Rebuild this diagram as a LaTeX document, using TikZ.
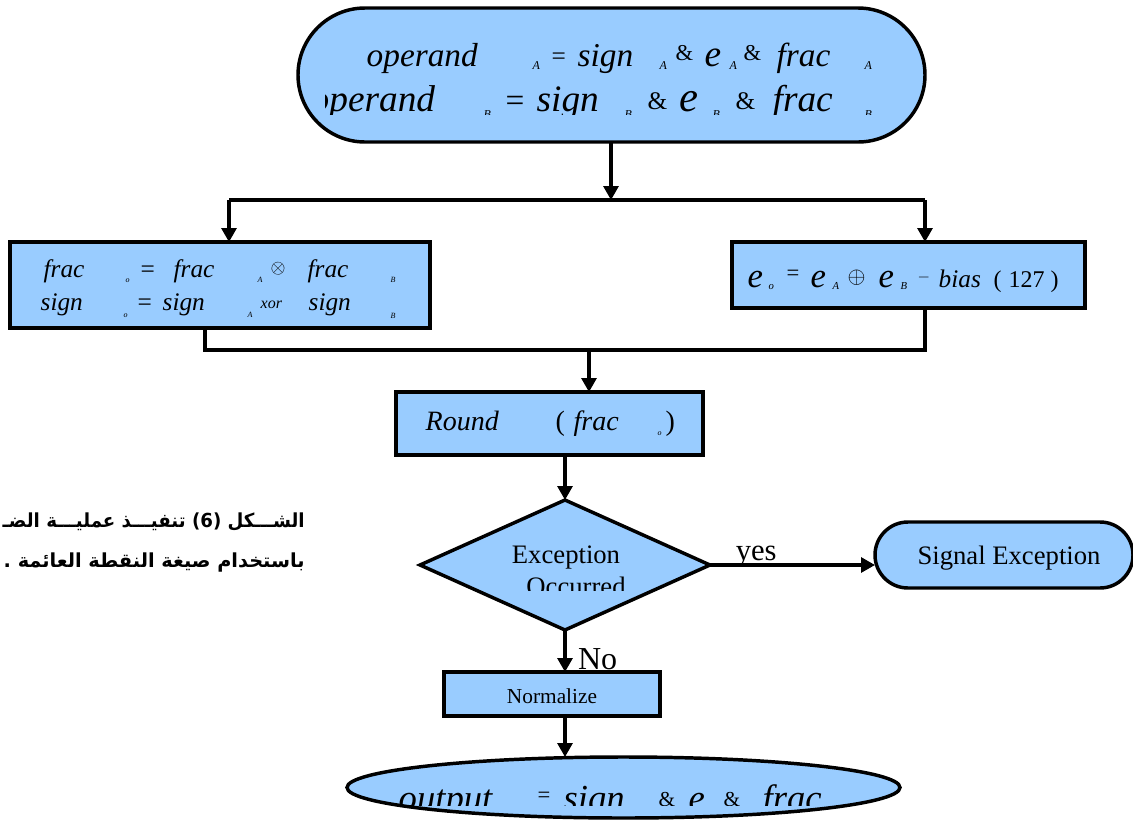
\documentclass[tikz,border=0pt]{standalone}
\usepackage{fontspec}
\setmainfont{Liberation Serif}
\newfontfamily\arabicfont[Script=Arabic]{DejaVu Sans}
\TeXXeTstate=1
\usetikzlibrary{shapes.geometric,shapes.misc,arrows.meta}
\definecolor{fillblue}{HTML}{99CCFF}
\newdimen\pxu \pxu=0.75pt
\newcommand\pc[2]{\makebox[0pt][l]{\hspace*{#1\pxu}#2}}
\newcommand\subx[3]{\raisebox{-#2\pxu}{\fontsize{#1}{#1}\selectfont #3}}
\newcommand\fs[1]{\fontsize{#1}{#1}\selectfont}
\tikzset{
  shp/.style={draw, line width=2.6pt, fill=fillblue, inner sep=0pt, outer sep=0pt},
  box/.style={shp, rectangle},
  term/.style={shp, rounded rectangle},
  conn/.style={line width=2.3pt},
  arr/.style={conn, -{Triangle[length=10.5pt,width=11.25pt]}},
  txt/.style={anchor=base west, inner sep=0pt, outer sep=0pt},
  ctxt/.style={anchor=base, inner sep=0pt, outer sep=0pt},
}
\begin{document}
\begin{tikzpicture}[x=0.75pt,y=-0.75pt]
\useasboundingbox (0,0) rectangle (1133,822);
\fill[white] (0,0) rectangle (1133,822);

% shapes
\node[term, minimum width=627\pxu, minimum height=134\pxu] (top) at (611.5,75) {};
\node[box, minimum width=420\pxu, minimum height=86\pxu] (left) at (220,285) {};
\node[box, minimum width=353\pxu, minimum height=66\pxu] (right) at (908.5,275) {};
\node[box, minimum width=307\pxu, minimum height=63\pxu] (round) at (549.5,423.5) {};
\node[shp, diamond, minimum width=290\pxu, minimum height=130\pxu] (dia) at (565,565) {};
\node[term, minimum width=258\pxu, minimum height=66\pxu] (sig) at (1004,555) {};
\node[box, minimum width=216\pxu, minimum height=44\pxu] (norm) at (552,694) {};
\node[shp, ellipse, minimum width=553\pxu, minimum height=61\pxu] (out) at (623.5,787.5) {};

% connectors
\coordinate (split) at (611,200);
\coordinate (sl) at (229,200);
\coordinate (sr) at (925,200);
\draw[arr] (top.south -| split) -- (split);
\draw[conn] (sl) -- (sr);
\draw[arr] (sl) -- (sl |- left.north);
\draw[arr] (sr) -- (sr |- right.north);
\coordinate (jl) at (205,350);
\coordinate (jr) at (925,350);
\coordinate (jm) at (589,350);
\draw[conn] (jl |- left.south) -- (jl) -- (jr) -- (jr |- right.south);
\draw[arr] (jm) -- (jm |- round.north);
\draw[arr] (dia.north |- round.south) -- (dia.north);
\draw[arr] (dia.east) -- (dia.east -| sig.west) node[ctxt, pos=0.28, yshift=5\pxu] (yes) {\fs{23}yes};
\draw[arr] (dia.south) -- (dia.south |- norm.north) node[txt, pos=0.95, xshift=13\pxu] (no) {\fs{24}No};
\draw[arr] (dia.south |- norm.south) -- (dia.south |- out.north);

% top terminator text
\begin{scope}
\clip (325,8) rectangle (925,114);
\node[txt] (t1) at (366,66) {\fs{25}\itshape
 \pc{0}{operand}\pc{185}{\upshape\fs{19}\raisebox{2\pxu}{=}}\pc{166}{\subx{9}{3}{A}}\pc{211}{sign}\pc{293}{\subx{9}{3}{A}}%
 \pc{309}{\raisebox{6\pxu}{\fs{17}\upshape\&}}\pc{338}{\fs{28}e}\pc{363}{\subx{9}{3}{A}}%
 \pc{377}{\raisebox{6\pxu}{\fs{17}\upshape\&}}\pc{410}{frac}\pc{498}{\subx{9}{3}{A}}};
\node[txt] (t2) at (310,111) {\fs{28}\itshape
 \pc{0}{operand}\pc{173}{\subx{9}{7}{B}}\pc{195}{\upshape\fs{25}=}\pc{226}{sign}\pc{314}{\subx{9}{7}{B}}%
 \pc{337}{\raisebox{2\pxu}{\fs{19}\upshape\&}}\pc{369}{\fs{32}e}\pc{402}{\subx{9}{7}{B}}%
 \pc{425}{\raisebox{2\pxu}{\fs{19}\upshape\&}}\pc{462}{frac}\pc{554}{\subx{9}{7}{B}}};
\end{scope}

% left box text
\node[txt] (l1) at (43,277) {\fs{19}\itshape
 \pc{0}{frac}\pc{82}{\subx{6}{5}{o}}\pc{97}{\upshape =}\pc{130}{frac}\pc{214}{\subx{6}{5}{A}}%
 \pc{227}{\raisebox{4\pxu}{\fs{15}$\otimes$}}\pc{264}{frac}\pc{347}{\subx{6}{5}{B}}};
\node[txt] (l2) at (40,310) {\fs{19}\itshape
 \pc{0}{sign}\pc{83}{\subx{6}{7}{o}}\pc{97}{\upshape =}\pc{122}{sign}\pc{207}{\subx{6}{7}{A}}%
 \pc{220}{\raisebox{2\pxu}{\fs{12}xor}}\pc{268}{sign}\pc{350}{\subx{6}{8}{B}}};

% right box text
\node[txt] (r1) at (747,287) {\fs{26}\itshape
 \pc{0}{e}\pc{21}{\subx{8}{2}{o}}\pc{39}{\raisebox{7\pxu}{\upshape\fs{17}=}}\pc{63}{e}\pc{85}{\subx{8}{2}{A}}%
 \pc{100}{\raisebox{4\pxu}{\fs{16}$\oplus$}}\pc{131}{e}\pc{153}{\subx{8}{2}{B}}%
 \pc{170}{\raisebox{6\pxu}{\fs{12.5}$-$}}\pc{191}{\fs{19}bias}\pc{246}{\upshape\fs{18}(}%
 \pc{261}{\upshape\fs{18}127}\pc{303}{\upshape\fs{18})}};

% round text
\node[txt] (rt) at (425,430) {\fs{21}\itshape
 \pc{0}{Round}\pc{130}{\upshape (}\pc{148}{frac}\pc{232}{\subx{6}{5}{o}}\pc{240}{\upshape )}};

% diamond text
\node[ctxt] (ex1) at (566,563) {\fs{20}Exception};
\begin{scope}
\clip (420,500) rectangle (710,590);
\node[ctxt] (ex2) at (576,595) {\fs{20}Occurred};
\end{scope}

\node[ctxt] (sigt) at (1009,564) {\fs{20}Signal Exception};
\node[ctxt] (normt) at (552,703) {\fs{16}Normalize};

% output text
\begin{scope}
\clip (347,757) rectangle (900,805);
\node[txt] (o1) at (398,810) {\fs{27.5}\itshape
 \pc{0}{output}\pc{139}{\raisebox{8\pxu}{\upshape\fs{17}=}}\pc{165}{sign}\pc{260}{\raisebox{4\pxu}{\upshape\fs{16}\&}}\pc{290}{e}%
 \pc{325}{\raisebox{4\pxu}{\upshape\fs{16}\&}}\pc{364}{frac}};
\end{scope}

% Arabic caption
\node[anchor=base east, inner sep=0pt] (cap1) at (305,527) {\resizebox{302\pxu}{\height}{\arabicfont\bfseries\fs{14.5}\beginR الشـــكل (6) تنفيـــذ عمليـــة الضـ\endR}};
\node[anchor=base east, inner sep=0pt] (cap2) at (305,567) {\arabicfont\bfseries\fs{14.5}\beginR باستخدام صيغة النقطة العائمة .\endR};
\end{tikzpicture}
\end{document}
